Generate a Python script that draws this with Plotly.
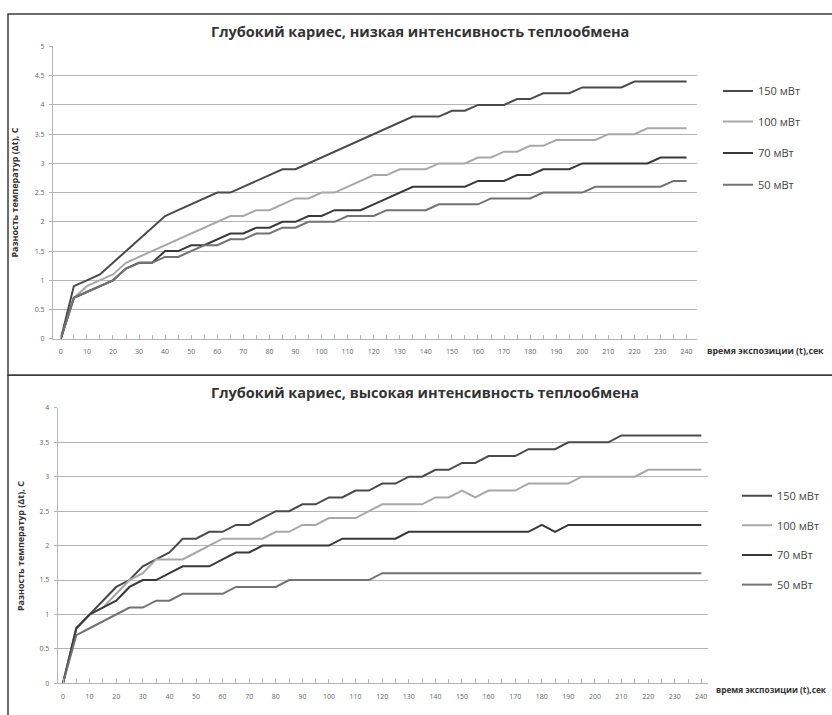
import plotly.graph_objects as go

# ---------------- data ----------------
t = list(range(0, 245, 5))

series_names = ["150 мВт", "100 мВт", "70 мВт", "50 мВт"]

low_150 = [0, 0.9, 1.0, 1.1, 1.3, 1.5, 1.7, 1.9, 2.1, 2.2, 2.3, 2.4, 2.5, 2.5, 2.6, 2.7, 2.8, 2.9, 2.9, 3.0,
           3.1, 3.2, 3.3, 3.4, 3.5, 3.6, 3.7, 3.8, 3.8, 3.8, 3.9, 3.9, 4.0, 4.0, 4.0, 4.1, 4.1, 4.2, 4.2, 4.2,
           4.3, 4.3, 4.3, 4.3, 4.4, 4.4, 4.4, 4.4, 4.4]
low_100 = [0, 0.7, 0.9, 1.0, 1.1, 1.3, 1.4, 1.5, 1.6, 1.7, 1.8, 1.9, 2.0, 2.1, 2.1, 2.2, 2.2, 2.3, 2.4, 2.4,
           2.5, 2.5, 2.6, 2.7, 2.8, 2.8, 2.9, 2.9, 2.9, 3.0, 3.0, 3.0, 3.1, 3.1, 3.2, 3.2, 3.3, 3.3, 3.4, 3.4,
           3.4, 3.4, 3.5, 3.5, 3.5, 3.6, 3.6, 3.6, 3.6]
low_70 = [0, 0.7, 0.8, 0.9, 1.0, 1.2, 1.3, 1.3, 1.5, 1.5, 1.6, 1.6, 1.7, 1.8, 1.8, 1.9, 1.9, 2.0, 2.0, 2.1,
          2.1, 2.2, 2.2, 2.2, 2.3, 2.4, 2.5, 2.6, 2.6, 2.6, 2.6, 2.6, 2.7, 2.7, 2.7, 2.8, 2.8, 2.9, 2.9, 2.9,
          3.0, 3.0, 3.0, 3.0, 3.0, 3.0, 3.1, 3.1, 3.1]
low_50 = [0, 0.7, 0.8, 0.9, 1.0, 1.2, 1.3, 1.3, 1.4, 1.4, 1.5, 1.6, 1.6, 1.7, 1.7, 1.8, 1.8, 1.9, 1.9, 2.0,
          2.0, 2.0, 2.1, 2.1, 2.1, 2.2, 2.2, 2.2, 2.2, 2.3, 2.3, 2.3, 2.3, 2.4, 2.4, 2.4, 2.4, 2.5, 2.5, 2.5,
          2.5, 2.6, 2.6, 2.6, 2.6, 2.6, 2.6, 2.7, 2.7]

high_150 = [0, 0.8, 1.0, 1.2, 1.4, 1.5, 1.7, 1.8, 1.9, 2.1, 2.1, 2.2, 2.2, 2.3, 2.3, 2.4, 2.5, 2.5, 2.6, 2.6,
            2.7, 2.7, 2.8, 2.8, 2.9, 2.9, 3.0, 3.0, 3.1, 3.1, 3.2, 3.2, 3.3, 3.3, 3.3, 3.4, 3.4, 3.4, 3.5, 3.5,
            3.5, 3.5, 3.6, 3.6, 3.6, 3.6, 3.6, 3.6, 3.6]
high_100 = [0, 0.8, 1.0, 1.1, 1.3, 1.5, 1.6, 1.8, 1.8, 1.8, 1.9, 2.0, 2.1, 2.1, 2.1, 2.1, 2.2, 2.2, 2.3, 2.3,
            2.4, 2.4, 2.4, 2.5, 2.6, 2.6, 2.6, 2.6, 2.7, 2.7, 2.8, 2.7, 2.8, 2.8, 2.8, 2.9, 2.9, 2.9, 2.9, 3.0,
            3.0, 3.0, 3.0, 3.0, 3.1, 3.1, 3.1, 3.1, 3.1]
high_70 = [0, 0.8, 1.0, 1.1, 1.2, 1.4, 1.5, 1.5, 1.6, 1.7, 1.7, 1.7, 1.8, 1.9, 1.9, 2.0, 2.0, 2.0, 2.0, 2.0,
           2.0, 2.1, 2.1, 2.1, 2.1, 2.1, 2.2, 2.2, 2.2, 2.2, 2.2, 2.2, 2.2, 2.2, 2.2, 2.2, 2.3, 2.2, 2.3, 2.3,
           2.3, 2.3, 2.3, 2.3, 2.3, 2.3, 2.3, 2.3, 2.3]
high_50 = [0, 0.7, 0.8, 0.9, 1.0, 1.1, 1.1, 1.2, 1.2, 1.3, 1.3, 1.3, 1.3, 1.4, 1.4, 1.4, 1.4, 1.5, 1.5, 1.5,
           1.5, 1.5, 1.5, 1.5, 1.6, 1.6, 1.6, 1.6, 1.6, 1.6, 1.6, 1.6, 1.6, 1.6, 1.6, 1.6, 1.6, 1.6, 1.6, 1.6,
           1.6, 1.6, 1.6, 1.6, 1.6, 1.6, 1.6, 1.6, 1.6]

title_top = "Глубокий кариес, низкая интенсивность теплообмена"
title_bottom = "Глубокий кариес, высокая интенсивность теплообмена"
y_title = "Разность температур (Δt), С"
x_title = "время экспозиции (t),сек"

# ---------------- styling ----------------
W, H = 832, 715
colors = ["#4a4a4a", "#a8a8a8", "#383838", "#727272"]
FONT = "Open Sans"
GRID = "#b4b4b4"


def px(x):
    return x / W


def py(y):
    return 1 - y / H


fig = go.Figure()

top_series = [low_150, low_100, low_70, low_50]
bottom_series = [high_150, high_100, high_70, high_50]

for i, (name, vals) in enumerate(zip(series_names, top_series)):
    fig.add_trace(go.Scatter(x=t, y=vals, mode="lines", name=name, showlegend=True,
                             line=dict(color=colors[i], width=2),
                             xaxis="x", yaxis="y",
                             legend="legend" if i == 0 else f"legend{i + 1}"))
for i, (name, vals) in enumerate(zip(series_names, bottom_series)):
    fig.add_trace(go.Scatter(x=t, y=vals, mode="lines", name=name, showlegend=True,
                             line=dict(color=colors[i], width=2),
                             xaxis="x2", yaxis="y2",
                             legend=f"legend{i + 5}"))

xcommon = dict(dtick=10, tick0=0, showgrid=False, zeroline=False, showline=True,
               linecolor=GRID, linewidth=1, ticks="inside", ticklen=4, tickcolor=GRID,
               tickfont=dict(family=FONT, size=7, color="#666"),
               minor=dict(dtick=5, tick0=0, ticks="inside", ticklen=4, tickcolor=GRID, showgrid=False),
               ticklabelstandoff=6, fixedrange=True)
ycommon = dict(dtick=0.5, showgrid=True, gridcolor=GRID, gridwidth=1, zeroline=False,
               showline=True, linecolor=GRID, linewidth=1, ticks="outside", ticklen=3,
               tickcolor=GRID, tickfont=dict(family=FONT, size=7, color="#666"),
               ticklabelstandoff=3, fixedrange=True)

layout = dict(
    width=W, height=H, autosize=False, showlegend=True,
    margin=dict(l=0, r=0, t=0, b=0),
    paper_bgcolor="white", plot_bgcolor="white",
    xaxis=dict(xcommon, domain=[px(53), px(697)], range=[-3, 244], anchor="y"),
    yaxis=dict(ycommon, domain=[py(338), py(42)], range=[0, 5], anchor="x"),
    xaxis2=dict(xcommon, domain=[px(57.7), px(708)], range=[-2, 242.5], anchor="y2"),
    yaxis2=dict(ycommon, domain=[py(687), py(408)], range=[0, 4], anchor="x2"),
)

legend_y_top = [87, 118, 150, 182]
legend_y_bottom = [497, 527, 557, 587]
for i in range(8):
    key = "legend" if i == 0 else f"legend{i + 1}"
    if i < 4:
        lx, ly = 718, legend_y_top[i]
    else:
        lx, ly = 737, legend_y_bottom[i - 4]
    layout[key] = dict(x=px(lx), y=py(ly), xanchor="left", yanchor="middle",
                       bgcolor="rgba(0,0,0,0)", borderwidth=0, visible=True,
                       font=dict(family=FONT, size=11, color="#444"),
                       itemclick=False, itemdoubleclick=False)

fig.update_layout(**layout)

annotations = [
    dict(text=f"<b>{title_top}</b>", x=px(420), y=py(27), xref="paper", yref="paper",
         showarrow=False, xanchor="center", yanchor="middle",
         font=dict(family=FONT, size=14.5, color="#333")),
    dict(text=f"<b>{title_bottom}</b>", x=px(425), y=py(392), xref="paper", yref="paper",
         showarrow=False, xanchor="center", yanchor="middle",
         font=dict(family=FONT, size=14.5, color="#333")),
    dict(text=f"<b>{y_title}</b>", x=px(15), y=py(190), xref="paper", yref="paper",
         showarrow=False, textangle=-90, xanchor="center", yanchor="middle",
         font=dict(family=FONT, size=9, color="#333")),
    dict(text=f"<b>{y_title}</b>", x=px(20), y=py(548), xref="paper", yref="paper",
         showarrow=False, textangle=-90, xanchor="center", yanchor="middle",
         font=dict(family=FONT, size=9, color="#333")),
    dict(text=f"<b>{x_title}</b>", x=px(705), y=py(350), xref="paper", yref="paper",
         showarrow=False, xanchor="left", yanchor="middle",
         font=dict(family=FONT, size=8.8, color="#333")),
    dict(text=f"<b>{x_title}</b>", x=px(714), y=py(693), xref="paper", yref="paper",
         showarrow=False, xanchor="left", yanchor="middle",
         font=dict(family=FONT, size=8.3, color="#333")),
]
fig.update_layout(annotations=annotations)

shapes = [
    dict(type="rect", xref="paper", yref="paper", x0=px(8), x1=1.05, y0=py(375), y1=py(9),
         line=dict(color="#3c3c3c", width=1.5), fillcolor="rgba(0,0,0,0)", layer="below"),
    dict(type="rect", xref="paper", yref="paper", x0=px(8), x1=1.05, y0=-0.05, y1=py(375),
         line=dict(color="#3c3c3c", width=1.5), fillcolor="rgba(0,0,0,0)", layer="below"),
]
fig.update_layout(shapes=shapes)

fig.write_html("out.html")
